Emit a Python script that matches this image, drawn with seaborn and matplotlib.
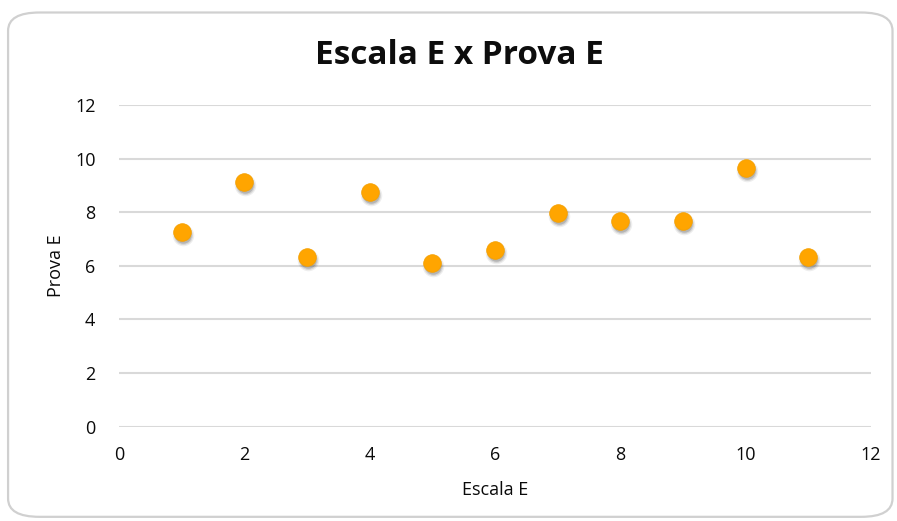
import matplotlib
matplotlib.use("Agg")
import matplotlib.pyplot as plt
from matplotlib.patches import FancyBboxPatch
from matplotlib.transforms import offset_copy
import pandas as pd
import seaborn as sns

# Data
escala_e = [1, 2, 3, 4, 5, 6, 7, 8, 9, 10, 11]
prova_e = [7.28, 9.14, 6.32, 8.77, 6.10, 6.60, 7.96, 7.68, 7.68, 9.64, 6.32]
x_ticks = [0, 2, 4, 6, 8, 10, 12]
y_ticks = [0, 2, 4, 6, 8, 10, 12]

df = pd.DataFrame({"Escala E": escala_e, "Prova E": prova_e})

sns.set_theme(style="white")
plt.rcParams["font.family"] = ["Open Sans", "DejaVu Sans"]

fig = plt.figure(figsize=(8.97, 5.21), dpi=100)
fig.patch.set_facecolor("white")

# Rounded chart frame, kept behind the axes
frame = FancyBboxPatch((0.009, 0.008), 0.986, 0.968,
                       boxstyle="round,pad=0,rounding_size=0.035",
                       transform=fig.transFigure, facecolor="white",
                       edgecolor="#D0D0D0", linewidth=1.6, zorder=-5)
fig.patches.append(frame)

ax = fig.add_axes([0.1327, 0.181, 0.8383, 0.6175])
ax.set_zorder(2)
ax.set_facecolor("none")

# Soft drop shadow: a few stacked, slightly offset translucent discs
shadow_layers = [(21.5, 0.08), (19, 0.12), (16.5, 0.2)]
for size_px, alpha in shadow_layers:
    sns.scatterplot(data=df, x="Escala E", y="Prova E", ax=ax,
                    s=size_px ** 2 * 0.52, color="#303030", alpha=alpha,
                    linewidth=0, zorder=2, legend=False)
    ax.collections[-1].set_offset_transform(
        offset_copy(ax.transData, fig=fig, x=0.8, y=-2.2, units="points"))

sns.scatterplot(data=df, x="Escala E", y="Prova E", ax=ax, s=160,
                color="#FFA500", edgecolor="#F5A000", linewidth=0.6,
                zorder=3, legend=False)

ax.set_xlim(0, 12)
ax.set_ylim(0, 12)
ax.set_xticks(x_ticks)
ax.set_yticks(y_ticks)
ax.set_xticklabels([str(t) for t in x_ticks])
ax.set_yticklabels([str(t) for t in y_ticks])

ax.grid(axis="y", color="#D9D9D9", linewidth=1.5)
ax.grid(axis="x", visible=False)
ax.set_axisbelow(True)
for side in ["top", "right", "left", "bottom"]:
    ax.spines[side].set_visible(False)

ax.tick_params(axis="both", length=0, labelsize=13, colors="#0a0a0a")
ax.tick_params(axis="y", pad=17)
ax.tick_params(axis="x", pad=14)

ax.set_xlabel("Escala E", fontsize=13, color="#0a0a0a", labelpad=12)
ax.set_ylabel("Prova E", fontsize=13, color="#0a0a0a", labelpad=7)

fig.text(0.512, 0.893, "Escala E x Prova E", ha="center", va="center",
         fontsize=24, fontweight="bold", color="#0d0d0d")

fig.savefig("out.png", dpi=100)
